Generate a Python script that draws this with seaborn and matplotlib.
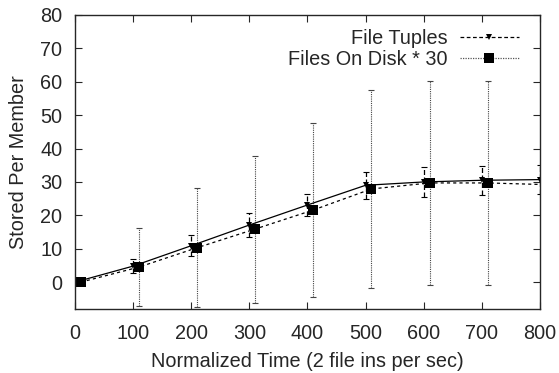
import numpy as np
import pandas as pd
import seaborn as sns
import matplotlib.pyplot as plt
from matplotlib.lines import Line2D

# values
tuples_x = [0, 100, 200, 300, 400, 500, 600, 700, 800]
tuples_y = [0.0, 4.8, 10.9, 17.1, 23.1, 29.0, 30.0, 30.5, 30.7]
tuples_err = [0.3, 2.2, 3.2, 3.7, 3.4, 4.1, 4.4, 4.4, 4.3]

disk_x = [10, 110, 210, 310, 410, 510, 610, 710, 810]
disk_y = [0.0, 4.5, 10.3, 15.9, 21.6, 27.9, 29.7, 29.7, 29.2]
disk_err = [0.5, 11.6, 17.8, 22.0, 26.0, 29.7, 30.6, 30.6, 30.5]

x_ticks = [0, 100, 200, 300, 400, 500, 600, 700, 800]
y_ticks = [0, 10, 20, 30, 40, 50, 60, 70, 80]

sns.set_style("ticks")
plt.rcParams['font.family'] = ['Liberation Sans', 'DejaVu Sans']
fs = 14.3

tuples = pd.DataFrame({'x': tuples_x, 'y': tuples_y})
disk = pd.DataFrame({'x': disk_x, 'y': disk_y})

fig = plt.figure(figsize=(5.59, 3.73), dpi=100)
ax = fig.add_axes([0.134, 0.171, 0.832, 0.789])

# error bars first
eb1 = ax.errorbar(tuples_x, tuples_y, yerr=tuples_err, fmt='none', ecolor='black',
                  elinewidth=0.9, capsize=2.5, capthick=0.8)
eb1[2][0].set_linestyle((0, (4, 2)))
eb2 = ax.errorbar(disk_x, disk_y, yerr=disk_err, fmt='none', ecolor='#444444',
                  elinewidth=0.8, capsize=2.5, capthick=0.8)
eb2[2][0].set_linestyle((0, (1, 1)))

sns.lineplot(data=tuples, x='x', y='y', ax=ax, color='black', linewidth=0.9,
             marker='v', markersize=5, markeredgewidth=0, sort=False)
sns.lineplot(data=disk, x='x', y='y', ax=ax, color='black', linewidth=0.9,
             linestyle=(0, (2.5, 2.5)), marker='s', markersize=7,
             markeredgewidth=0, sort=False)

ax.set_xlim(0, 800)
ax.set_ylim(-8.1, 80)
ax.set_xticks(x_ticks)
ax.set_yticks(y_ticks)
ax.tick_params(direction='in', length=5, width=0.8, top=True, right=True,
               labelsize=fs)
ax.tick_params(axis='x', pad=11)
ax.tick_params(axis='y', pad=9)
for s in ax.spines.values():
    s.set_linewidth(1.0)
ax.set_xlabel('Normalized Time (2 file ins per sec)', fontsize=fs, labelpad=6)
ax.set_ylabel('Stored Per Member', fontsize=fs, labelpad=9)

handles = [
    Line2D([], [], color='black', linewidth=0.9, linestyle=(0, (3, 2)),
           marker='v', markersize=5, markeredgewidth=0),
    Line2D([], [], color='#555555', linewidth=0.9, linestyle=(0, (1, 1)),
           marker='s', markersize=7, markeredgewidth=0,
           markerfacecolor='black'),
]
ax.legend(handles, ['File Tuples', 'Files On Disk * 30'], loc='upper right',
          bbox_to_anchor=(0.985, 1.0), frameon=False, markerfirst=False,
          handlelength=3.0, handletextpad=0.6, labelspacing=0.1,
          fontsize=fs, borderaxespad=0.3)

fig.savefig('out.png', dpi=100)
